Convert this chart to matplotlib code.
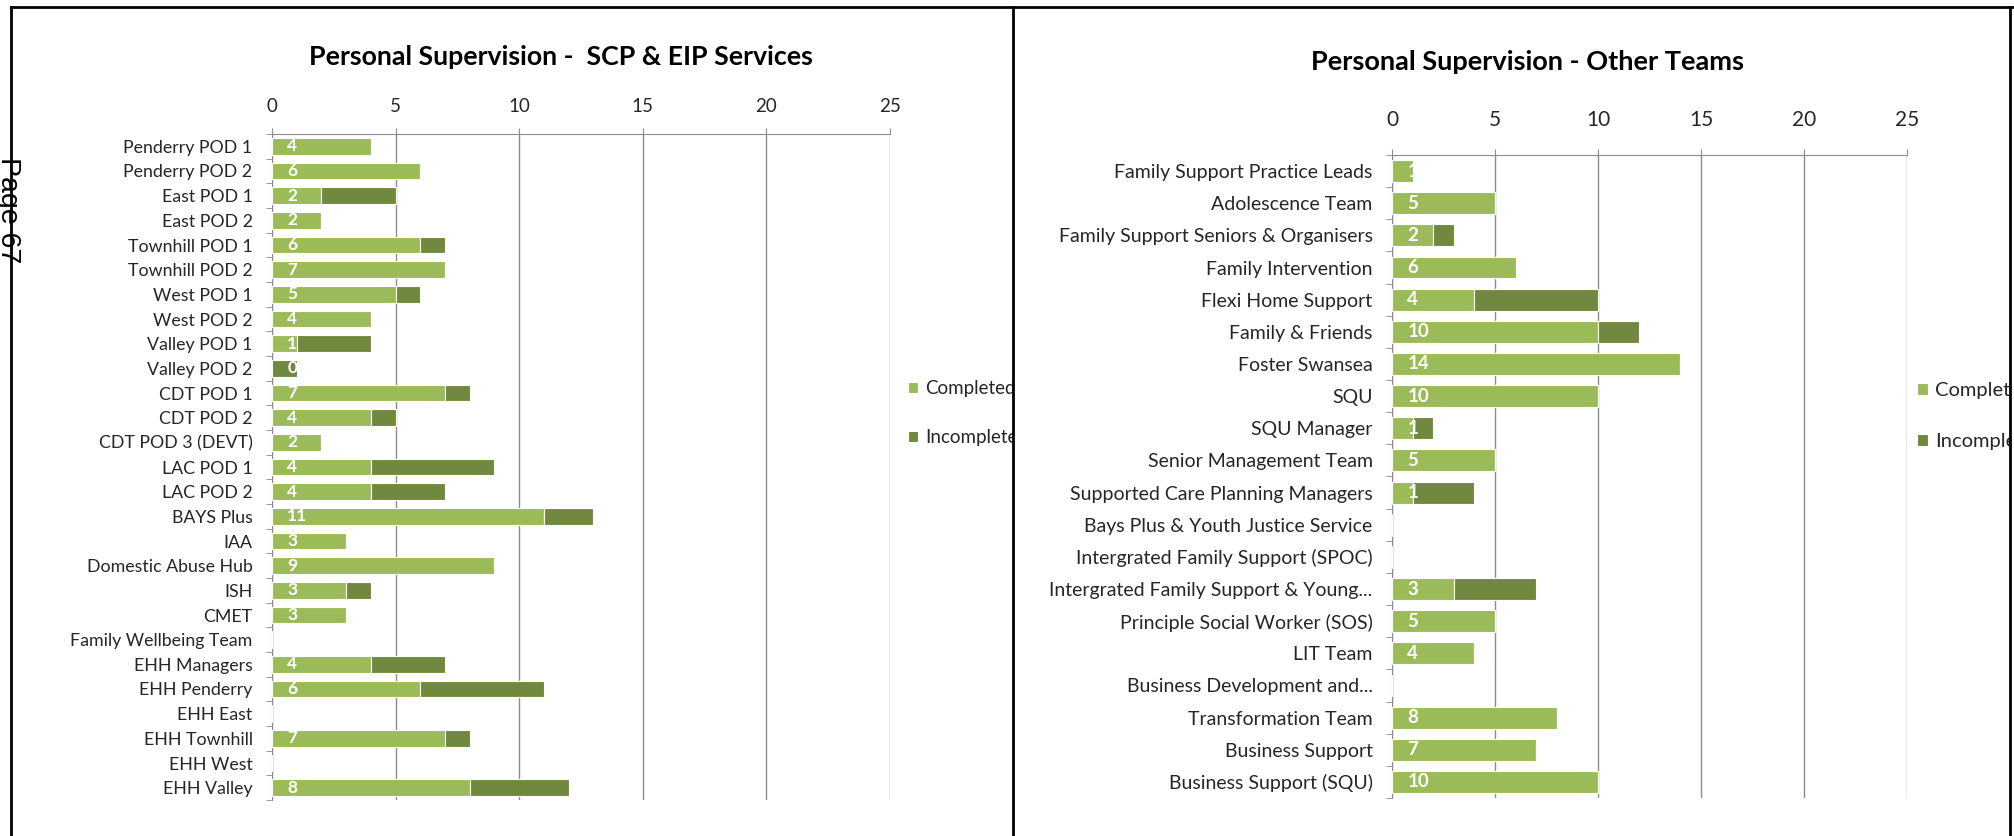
import numpy as np
import matplotlib
matplotlib.use('Agg')
import matplotlib.pyplot as plt
from matplotlib.patches import Rectangle
from matplotlib.lines import Line2D

plt.rcParams['font.family'] = ['Lato', 'DejaVu Sans']

# Left chart data (nan = no data for that team)
left_teams = ['Penderry POD 1', 'Penderry POD 2', 'East POD 1', 'East POD 2',
              'Townhill POD 1', 'Townhill POD 2', 'West POD 1', 'West POD 2',
              'Valley POD 1', 'Valley POD 2', 'CDT POD 1', 'CDT POD 2',
              'CDT POD 3 (DEVT)', 'LAC POD 1', 'LAC POD 2', 'BAYS Plus', 'IAA',
              'Domestic Abuse Hub', 'ISH', 'CMET', 'Family Wellbeing Team',
              'EHH Managers', 'EHH Penderry', 'EHH East', 'EHH Townhill',
              'EHH West', 'EHH Valley']
left_completed = [4, 6, 2, 2, 6, 7, 5, 4, 1, 0, 7, 4, 2, 4, 4, 11, 3, 9, 3, 3,
                  np.nan, 4, 6, np.nan, 7, np.nan, 8]
left_incomplete = [0, 0, 3, 0, 1, 0, 1, 0, 3, 1, 1, 1, 0, 5, 3, 2, 0, 0, 1, 0,
                   0, 3, 5, 0, 1, 0, 4]

# Right chart data
right_teams = ['Family Support Practice Leads', 'Adolescence Team',
               'Family Support Seniors & Organisers', 'Family Intervention',
               'Flexi Home Support', 'Family & Friends', 'Foster Swansea', 'SQU',
               'SQU Manager', 'Senior Management Team',
               'Supported Care Planning Managers',
               'Bays Plus & Youth Justice Service',
               'Intergrated Family Support (SPOC)',
               'Intergrated Family Support & Young...',
               'Principle Social Worker (SOS)', 'LIT Team',
               'Business Development and...', 'Transformation Team',
               'Business Support', 'Business Support (SQU)']
right_completed = [1, 5, 2, 6, 4, 10, 14, 10, 1, 5, 1, np.nan, np.nan, 3, 5, 4,
                   np.nan, 8, 7, 10]
right_incomplete = [0, 0, 1, 0, 6, 2, 0, 0, 1, 0, 3, 0, 0, 4, 0, 0, 0, 0, 0, 0]

W, H = 2015, 836
LIGHT = '#9BBB59'
DARK = '#71893F'
GRID = '#8C8C8C'
TXT = '#262626'


def fx(px):
  return px / W


def fy(py):
  return 1 - py / H


def draw_chart(ax, teams, completed, incomplete, title, title_xy, cat_fs,
               tick_fs, lab_fs, tick_pad, title_fs):
  n = len(teams)
  y = np.arange(n)
  comp = np.nan_to_num(np.array(completed, dtype=float))
  inc = np.array(incomplete, dtype=float)
  ax.barh(y, comp, height=0.68, color=LIGHT, edgecolor='white', linewidth=0.8,
          zorder=3, label='Completed')
  ax.barh(y, inc, left=comp, height=0.68, color=DARK, edgecolor='white',
          linewidth=0.8, zorder=3, label='Incomplete')
  for i, v in enumerate(completed):
    if not np.isnan(v):
      ax.annotate(str(int(v)), xy=(0, i), xytext=(11, 0),
                  textcoords='offset points', ha='left', va='center',
                  color='white', fontweight='bold', fontsize=lab_fs, zorder=4)
  ax.set_xlim(0, 25)
  ax.set_ylim(n - 0.5, -0.5)
  ax.xaxis.tick_top()
  ax.set_xticks([0, 5, 10, 15, 20, 25])
  ax.tick_params(axis='x', length=4, color=GRID, labelsize=tick_fs,
                 labelcolor=TXT, pad=tick_pad)
  ax.set_yticks(y)
  ax.set_yticklabels(teams, fontsize=cat_fs, color=TXT)
  ax.tick_params(axis='y', which='major', length=0, pad=14)
  ax.set_yticks(np.arange(n + 1) - 0.5, minor=True)
  ax.tick_params(axis='y', which='minor', length=4, color=GRID)
  ax.grid(axis='x', color=GRID, linewidth=1, zorder=0)
  for s in ['right', 'bottom']:
    ax.spines[s].set_visible(False)
  for s in ['top', 'left']:
    ax.spines[s].set_color(GRID)
  fig.text(fx(title_xy[0]), fy(title_xy[1]), title, ha='center', va='center',
           fontsize=title_fs, fontweight='bold', color='black')


fig = plt.figure(figsize=(W / 100, H / 100), dpi=100)

ax1 = fig.add_axes([fx(272), fy(800), fx(890) - fx(272), fy(134) - fy(800)])
draw_chart(ax1, left_teams, left_completed, left_incomplete,
           'Personal Supervision -  SCP & EIP Services', (561, 57),
           12.8, 13.5, 12.5, 10, 19.3)

ax2 = fig.add_axes([fx(1392), fy(798), fx(1907) - fx(1392), fy(155) - fy(798)])
draw_chart(ax2, right_teams, right_completed, right_incomplete,
           'Personal Supervision - Other Teams', (1528, 62),
           14, 15, 13.5, 14, 19.5)

for ax, x0, y0, fs in [(ax1, 908, 380, 13.5), (ax2, 1917, 382, 14.5)]:
  ax.legend(loc='upper left', bbox_to_anchor=(fx(x0), fy(y0)),
            bbox_transform=fig.transFigure, frameon=False, fontsize=fs,
            handlelength=0.55, handleheight=0.55, handletextpad=0.35,
            labelspacing=1.7, borderpad=0, borderaxespad=0, labelcolor=TXT)

# white masks where the legend text runs past the frames
fig.add_artist(Rectangle((fx(1014), fy(470)), fx(1080) - fx(1014), fy(370) - fy(470),
                         transform=fig.transFigure, color='white', zorder=5))
fig.add_artist(Rectangle((fx(2011), 0), 1 - fx(2011), 1,
                         transform=fig.transFigure, color='white', zorder=5))

# page frame lines
frame = dict(transform=fig.transFigure, color='black', linewidth=2, zorder=6)
fig.add_artist(Line2D([fx(11), 1], [fy(7), fy(7)], **frame))
fig.add_artist(Line2D([fx(11), fx(11)], [fy(7), 0], **frame))
fig.add_artist(Line2D([fx(1013), fx(1013)], [fy(7), 0], **frame))
fig.add_artist(Line2D([fx(2010), fx(2010)], [fy(7), 0], **frame))

fig.text(fx(8), fy(210), 'Page 67', rotation=-90, ha='center', va='center',
         fontsize=20.5, family='Liberation Sans', color='black', zorder=7)

fig.savefig('out.png', dpi=100, facecolor='white')
